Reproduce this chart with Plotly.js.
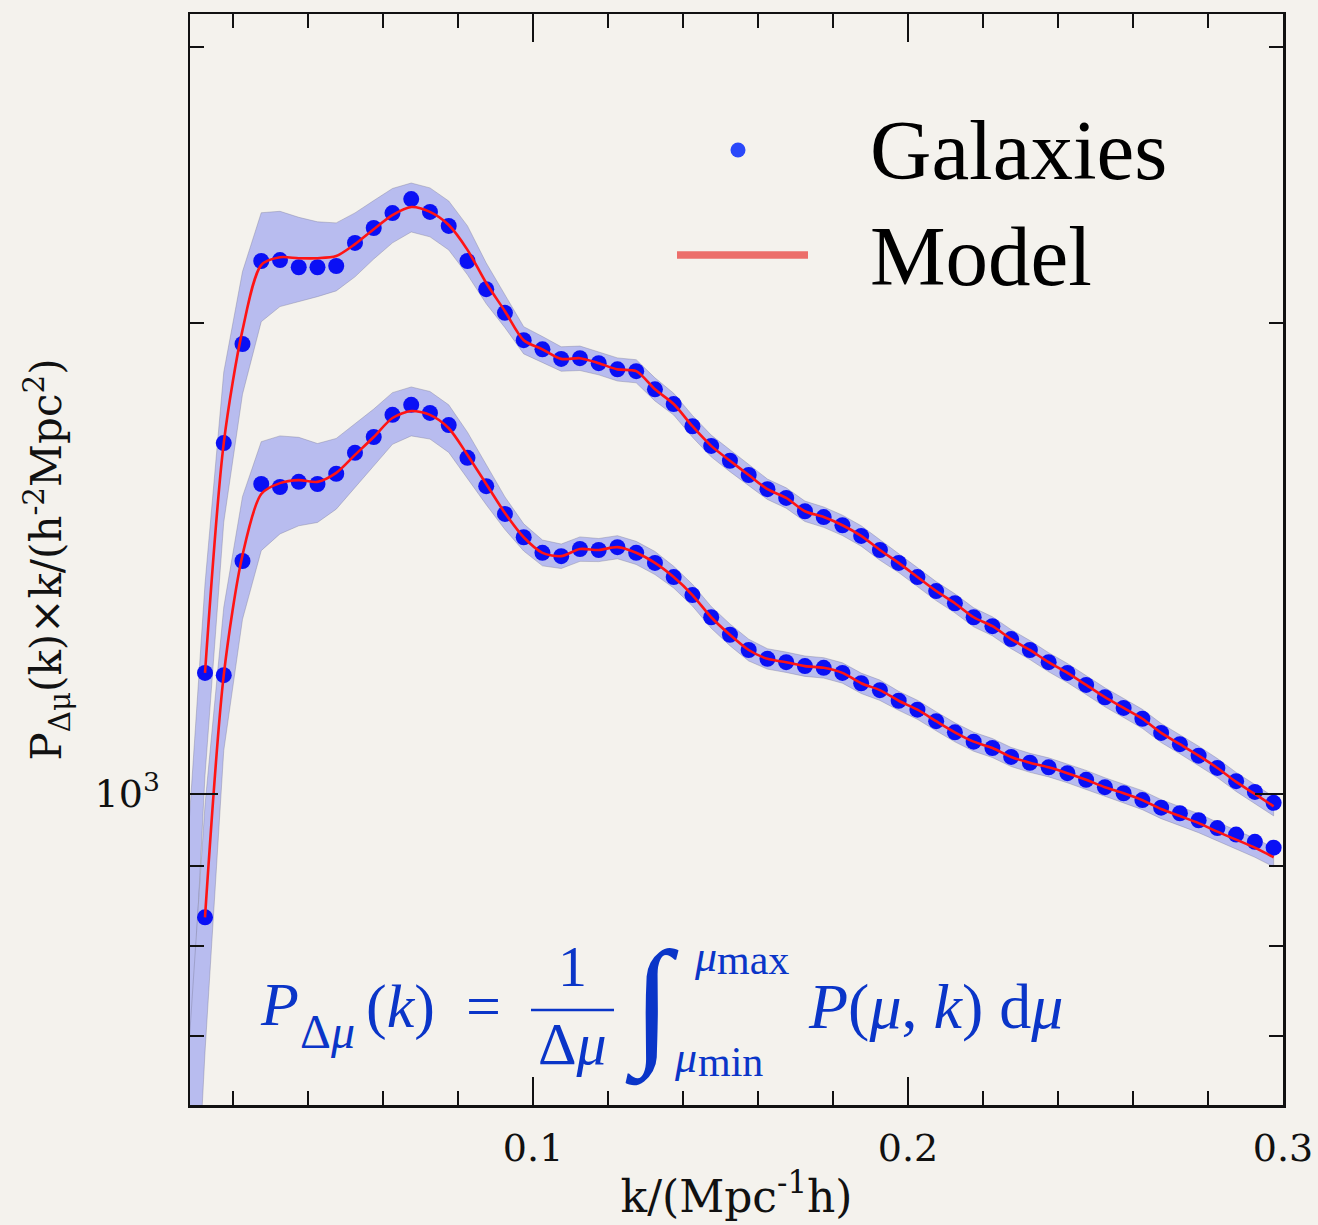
<!DOCTYPE html>
<html>
<head>
<meta charset="utf-8">
<script src="https://cdn.plot.ly/plotly-3.0.1.min.js"></script>
<style>html,body{margin:0;padding:0;background:#f4f2ed;}</style>
</head>
<body>
<div id="chart" style="width:1318px;height:1225px;"></div>
<script>
// wavenumber bins k (h/Mpc)
const k = [0.0125,0.0175,0.0225,0.0275,0.0325,0.0375,0.0425,0.0475,0.0525,0.0575,
  0.0625,0.0675,0.0725,0.0775,0.0825,0.0875,0.0925,0.0975,0.1025,0.1075,
  0.1125,0.1175,0.1225,0.1275,0.1325,0.1375,0.1425,0.1475,0.1525,0.1575,
  0.1625,0.1675,0.1725,0.1775,0.1825,0.1875,0.1925,0.1975,0.2025,0.2075,
  0.2125,0.2175,0.2225,0.2275,0.2325,0.2375,0.2425,0.2475,0.2525,0.2575,
  0.2625,0.2675,0.2725,0.2775,0.2825,0.2875,0.2925,0.2975];

// upper wedge: galaxies and model
const upperGalaxies = [1195,1676,1939,2191,2194,2171,2171,2175,2250,2300,
  2351,2400,2355,2307,2191,2102,2030,1950,1924,1897,
  1899,1885,1868,1863,1814,1775,1718,1669,1633,1599,
  1566,1546,1516,1503,1485,1462,1432,1405,1376,1348,
  1324,1297,1280,1256,1236,1214,1195,1174,1153,1135,
  1117,1094,1076,1058,1039,1019,1003,987];
const upperModel = [1195,1676,1979,2178,2203,2200,2200,2207,2246,2296,
  2344,2372,2355,2310,2227,2121,2035,1950,1924,1897,
  1899,1885,1868,1863,1814,1775,1718,1669,1633,1599,
  1566,1546,1516,1503,1485,1462,1432,1405,1376,1348,
  1324,1297,1280,1256,1236,1214,1195,1174,1153,1135,
  1117,1094,1076,1058,1039,1018,1000,982];
const upperErr = [0.14,0.11,0.09,0.08,0.07,0.062,0.055,0.05,0.047,0.043,
  0.04,0.036,0.036,0.036,0.036,0.03,0.024,0.02,0.019,0.018,
  0.018,0.017,0.017,0.017,0.017,0.016,0.016,0.016,0.016,0.016,
  0.015,0.015,0.015,0.015,0.015,0.015,0.015,0.014,0.014,0.014,
  0.014,0.014,0.014,0.014,0.014,0.014,0.014,0.014,0.014,0.014,
  0.014,0.014,0.014,0.014,0.014,0.014,0.014,0.014];

// lower wedge: galaxies and model
const lowerGalaxies = [834,1191,1409,1578,1571,1583,1578,1602,1652,1691,
  1747,1773,1752,1721,1640,1573,1510,1459,1426,1419,
  1434,1432,1438,1426,1405,1376,1340,1297,1264,1236,
  1220,1214,1207,1204,1195,1177,1165,1147,1132,1113,
  1095,1080,1070,1056,1047,1040,1031,1021,1010,1001,
  991,980,972,962,951,942,932,924];
const lowerModel = [834,1191,1421,1555,1580,1587,1583,1604,1647,1691,
  1739,1757,1747,1713,1647,1578,1512,1459,1426,1419,
  1434,1432,1438,1426,1405,1376,1340,1297,1264,1236,
  1220,1214,1207,1204,1195,1177,1165,1147,1132,1113,
  1095,1080,1070,1056,1047,1040,1031,1021,1010,1001,
  991,978,968,958,946,935,924,911];
const lowerErr = [0.18,0.105,0.09,0.08,0.072,0.065,0.058,0.052,0.047,0.042,
  0.038,0.036,0.035,0.035,0.034,0.03,0.024,0.02,0.019,0.018,
  0.018,0.017,0.017,0.017,0.017,0.016,0.016,0.016,0.016,0.016,
  0.015,0.015,0.015,0.015,0.015,0.015,0.015,0.014,0.014,0.014,
  0.014,0.014,0.014,0.014,0.014,0.014,0.014,0.014,0.014,0.014,
  0.014,0.014,0.014,0.014,0.014,0.014,0.014,0.014];

// error band continues to the bin just left of the plotted range
const bandEdgeK = 0.0075;
const upperBandEdge = [600, 900];   // [low, high]
const lowerBandEdge = [400, 650];

// tick labels
const xTickVals = [0.1, 0.2, 0.3];
const xTickText = ['0.1', '0.2', '0.3'];
const xMinorVals = [0.02,0.04,0.06,0.08,0.12,0.14,0.16,0.18,0.22,0.24,0.26,0.28];
const yTickVals = [1000];
const yTickText = ['10<sup>3</sup>'];
const yMinorVals = [700, 800, 900, 2000, 3000];

function band(model, err, edge) {
  const xs = [bandEdgeK].concat(k);
  const hi = [edge[1]].concat(model.map((v, i) => v * (1 + err[i])));
  const lo = [edge[0]].concat(model.map((v, i) => v * (1 - err[i])));
  return {
    x: xs.concat(xs.slice().reverse()),
    y: hi.concat(lo.slice().reverse())
  };
}

const bandColor = '#b8bcef';
const ub = band(upperModel, upperErr, upperBandEdge);
const lb = band(lowerModel, lowerErr, lowerBandEdge);

const traces = [
  {x: ub.x, y: ub.y, type: 'scatter', mode: 'lines', fill: 'toself',
   fillcolor: bandColor, line: {color: 'rgba(120,120,150,0.55)', width: 0.7}, hoverinfo: 'skip'},
  {x: lb.x, y: lb.y, type: 'scatter', mode: 'lines', fill: 'toself',
   fillcolor: bandColor, line: {color: 'rgba(120,120,150,0.55)', width: 0.7}, hoverinfo: 'skip'},
  {x: k, y: upperGalaxies, type: 'scatter', mode: 'markers', name: 'Galaxies',
   marker: {color: '#0a10f5', size: 16, line: {width: 0}}},
  {x: k, y: lowerGalaxies, type: 'scatter', mode: 'markers', name: 'Galaxies',
   marker: {color: '#0a10f5', size: 16, line: {width: 0}}},
  {x: k, y: upperModel, type: 'scatter', mode: 'lines', name: 'Model',
   line: {color: '#ff1414', width: 2.6, shape: 'spline', smoothing: 0.8}},
  {x: k, y: lowerModel, type: 'scatter', mode: 'lines', name: 'Model',
   line: {color: '#ff1414', width: 2.6, shape: 'spline', smoothing: 0.8}}
];

const axisFont = {family: 'DejaVu Serif', size: 38, color: '#111'};
const blue = '#0a35c8';
const fF = 'Liberation Serif';

// helpers for paper coordinates
const L = 190, R = 1283, T = 14, B = 1105;
const px = v => (v - L) / (R - L);
const py = v => (B - v) / (B - T);

function note(text, x, y, size, xanchor, family) {
  return {text: text, xref: 'paper', yref: 'paper', x: px(x), y: py(y),
          xanchor: xanchor || 'left', yanchor: 'middle', showarrow: false,
          font: {family: family || fF, size: size, color: blue}};
}

const layout = {
  width: 1318, height: 1225,
  margin: {l: L, r: 1318 - R, t: T, b: 1225 - B, pad: 0},
  paper_bgcolor: '#f4f2ed', plot_bgcolor: '#f4f2ed',
  showlegend: false,
  xaxis: {
    type: 'linear', range: [0.0085, 0.3],
    tickmode: 'array', tickvals: xTickVals, ticktext: xTickText,
    ticks: 'inside', ticklen: 28, tickwidth: 2, tickcolor: '#111',
    showline: true, linecolor: '#111', linewidth: 2.5, mirror: 'ticks',
    showgrid: false, zeroline: false,
    tickfont: axisFont, ticklabelstandoff: 8,
    minor: {tickmode: 'array', tickvals: xMinorVals, ticks: 'inside', ticklen: 14,
            tickwidth: 2, tickcolor: '#111', showgrid: false},
    title: {text: 'k/(Mpc<sup>-1</sup>h)', font: {family: 'DejaVu Serif', size: 44, color: '#111'}, standoff: 12}
  },
  yaxis: {
    type: 'log', range: [2.8012, 3.4985],
    tickmode: 'array', tickvals: yTickVals, ticktext: yTickText,
    ticks: 'inside', ticklen: 28, tickwidth: 2, tickcolor: '#111',
    showline: true, linecolor: '#111', linewidth: 2.5, mirror: 'ticks',
    showgrid: false, zeroline: false,
    tickfont: axisFont, ticklabelstandoff: 20,
    minor: {tickmode: 'array', tickvals: yMinorVals, ticks: 'inside', ticklen: 14,
            tickwidth: 2, tickcolor: '#111', showgrid: false},
    title: {text: 'P<sub>Δμ</sub>(k)×k/(h<sup>-2</sup>Mpc<sup>2</sup>)', font: {family: 'DejaVu Serif', size: 42, color: '#111'}, standoff: 20}
  },
  shapes: [
    // legend symbols
    {type: 'circle', xref: 'paper', yref: 'paper', xsizemode: 'pixel', ysizemode: 'pixel',
     xanchor: px(738), yanchor: py(150), x0: -7.5, x1: 7.5, y0: -7.5, y1: 7.5,
     fillcolor: '#2a48fa', line: {width: 0}},
    {type: 'line', xref: 'paper', yref: 'paper', x0: px(677), x1: px(808), y0: py(255), y1: py(255),
     line: {color: '#ec6e6a', width: 7.5}},
    // fraction bar
    {type: 'line', xref: 'paper', yref: 'paper', x0: px(531), x1: px(614), y0: py(1010), y1: py(1010),
     line: {color: blue, width: 2.4}}
  ],
  annotations: [
    {text: 'Galaxies', xref: 'paper', yref: 'paper', x: px(868), y: py(150), xanchor: 'left', yanchor: 'middle',
     showarrow: false, font: {family: fF, size: 85, color: '#000'}},
    {text: 'Model', xref: 'paper', yref: 'paper', x: px(868), y: py(256), xanchor: 'left', yanchor: 'middle',
     showarrow: false, font: {family: fF, size: 85, color: '#000'}},
    note('<i>P</i>', 258, 1004, 62),
    note('Δ<i>μ</i>', 298, 1031, 48),
    note('(<i>k</i>)', 364, 1006, 62),
    note('=', 483, 1006, 62, 'center'),
    note('1', 572, 966, 58, 'center'),
    note('Δ<i>μ</i>', 572, 1044, 60, 'center'),
    note('∫', 652, 1004, 140, 'center', 'Liberation Serif'),
    note('<i>μ</i>', 692, 956, 44),
    note('max', 715, 960, 42),
    note('<i>μ</i>', 672, 1057, 44),
    note('min', 696, 1062, 42),
    note('<i>P</i>(<i>μ</i>, <i>k</i>) d<i>μ</i>', 806, 1006, 64)
  ]
};

Plotly.newPlot('chart', traces, layout, {displayModeBar: false, staticPlot: true});
</script>
</body>
</html>
